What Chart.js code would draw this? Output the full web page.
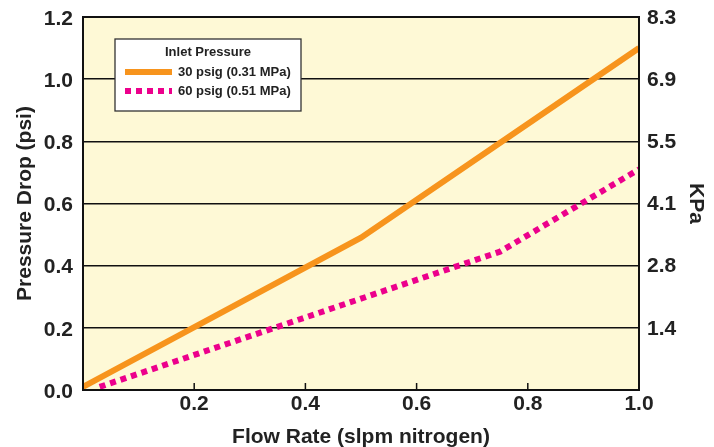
<!DOCTYPE html>
<html><head><meta charset="utf-8">
<script src="https://cdn.jsdelivr.net/npm/chart.js@4"></script>
<style>html,body{margin:0;padding:0;background:#fff}#wrap{width:714px;height:447px}</style>
</head><body><div id="wrap"><canvas id="c"></canvas></div>
<script>
const legendTitle = "Inlet Pressure";
const seriesNames = ["30 psig (0.31 MPa)", "60 psig (0.51 MPa)"];
const flow30 = [0, 0.5, 1.0];
const drop30 = [0.01, 0.49, 1.10];
const flow60 = [0.03, 0.75, 1.0];
const drop60 = [0.01, 0.445, 0.71];
const kpaLabels = ["", "1.4", "2.8", "4.1", "5.5", "6.9", "8.3"];
const xTitle = "Flow Rate (slpm nitrogen)";
const yTitle = "Pressure Drop (psi)";
const y2Title = "KPa";

const FONT = "'Liberation Sans', Arial, sans-serif";
const tickFont = {family: FONT, size: 21, weight: 'bold'};
const titleFont = {family: FONT, size: 21, weight: 'bold'};

const bgPlugin = {
  id: 'bg',
  beforeDraw(chart) {
    const {ctx, chartArea: a} = chart;
    ctx.save(); ctx.fillStyle = '#FEF9D6';
    ctx.fillRect(a.left, a.top, a.right - a.left, a.bottom - a.top);
    ctx.restore();
  },
  afterDraw(chart) {
    const {ctx, chartArea: a} = chart;
    ctx.save();
    ctx.strokeStyle = '#111'; ctx.lineWidth = 2;
    ctx.strokeRect(a.left, a.top, a.right - a.left, a.bottom - a.top);
    // inward x ticks
    const xs = chart.scales.x;
    ctx.lineWidth = 1.5;
    xs.ticks.forEach(t => {
      if (t.value <= 0.0001 || t.value >= 0.9999) return;
      const px = xs.getPixelForValue(t.value);
      ctx.beginPath(); ctx.moveTo(px, a.bottom); ctx.lineTo(px, a.bottom - 7); ctx.stroke();
    });
    // legend
    const lx = 115, ly = 39, lw = 186, lh = 72;
    ctx.fillStyle = '#fff'; ctx.fillRect(lx, ly, lw, lh);
    ctx.strokeStyle = '#333'; ctx.lineWidth = 1.3; ctx.strokeRect(lx, ly, lw, lh);
    ctx.fillStyle = '#222'; ctx.font = "bold 13px " + FONT;
    ctx.textAlign = 'center'; ctx.textBaseline = 'middle';
    ctx.fillText(legendTitle, lx + lw / 2, ly + 13);
    ctx.textAlign = 'left';
    chart.data.datasets.forEach((ds, i) => {
      const yy = ly + 33 + i * 19;
      ctx.save();
      ctx.strokeStyle = ds.borderColor; ctx.lineWidth = 6;
      ctx.setLineDash(ds.borderDash || []);
      ctx.beginPath(); ctx.moveTo(lx + 10, yy); ctx.lineTo(lx + 57, yy); ctx.stroke();
      ctx.restore();
      ctx.fillStyle = '#222'; ctx.font = "bold 13px " + FONT;
      ctx.fillText(ds.label, lx + 63, yy);
    });
    ctx.restore();
  }
};

function fixV(s, w) { s.width = w; s.paddingTop = 0; s.paddingBottom = 0; }

new Chart(document.getElementById('c'), {
  type: 'line',
  data: {
    datasets: [
      {label: seriesNames[0], data: flow30.map((x, i) => ({x, y: drop30[i]})),
       borderColor: '#F7941D', borderWidth: 6, pointRadius: 0, tension: 0, fill: false},
      {label: seriesNames[1], data: flow60.map((x, i) => ({x, y: drop60[i]})),
       borderColor: '#EC008C', borderWidth: 6, borderDash: [6, 5], pointRadius: 0, tension: 0, fill: false}
    ]
  },
  options: {
    responsive: true, maintainAspectRatio: false, animation: false,
    layout: {padding: {top: 17, left: 13, right: 0, bottom: 0}},
    plugins: {legend: {display: false}, tooltip: {enabled: false}},
    scales: {
      x: {
        type: 'linear', min: 0, max: 1,
        afterFit(s) { s.height = 57; s.paddingLeft = 0; s.paddingRight = 0; },
        grid: {display: false, drawTicks: false},
        border: {display: false},
        ticks: {stepSize: 0.2, padding: 2, color: '#222', font: tickFont,
          callback: v => (v < 0.001 ? '' : v.toFixed(1))},
        title: {display: true, text: xTitle, color: '#222', font: titleFont, padding: {top: 0, bottom: -3}}
      },
      y: {
        type: 'linear', position: 'left', min: 0, max: 1.2,
        afterFit(s) { fixV(s, 70); },
        grid: {color: '#111', lineWidth: 1.5, drawTicks: false},
        border: {display: false},
        ticks: {stepSize: 0.2, padding: 10, labelOffset: 2, color: '#222', font: tickFont,
          callback: v => v.toFixed(1)},
        title: {display: true, text: yTitle, color: '#222', font: titleFont, padding: {top: 0, bottom: 0}}
      },
      y2: {
        type: 'linear', position: 'right', min: 0, max: 1.2,
        afterFit(s) { fixV(s, 75); },
        grid: {display: false, drawTicks: false},
        border: {display: false},
        ticks: {stepSize: 0.2, padding: 8, labelOffset: 1, color: '#222', font: tickFont,
          callback: (v, i) => kpaLabels[i]},
        title: {display: true, text: y2Title, color: '#222', font: titleFont, padding: {top: 6, bottom: 0}}
      }
    }
  },
  plugins: [bgPlugin]
});
</script></body></html>
